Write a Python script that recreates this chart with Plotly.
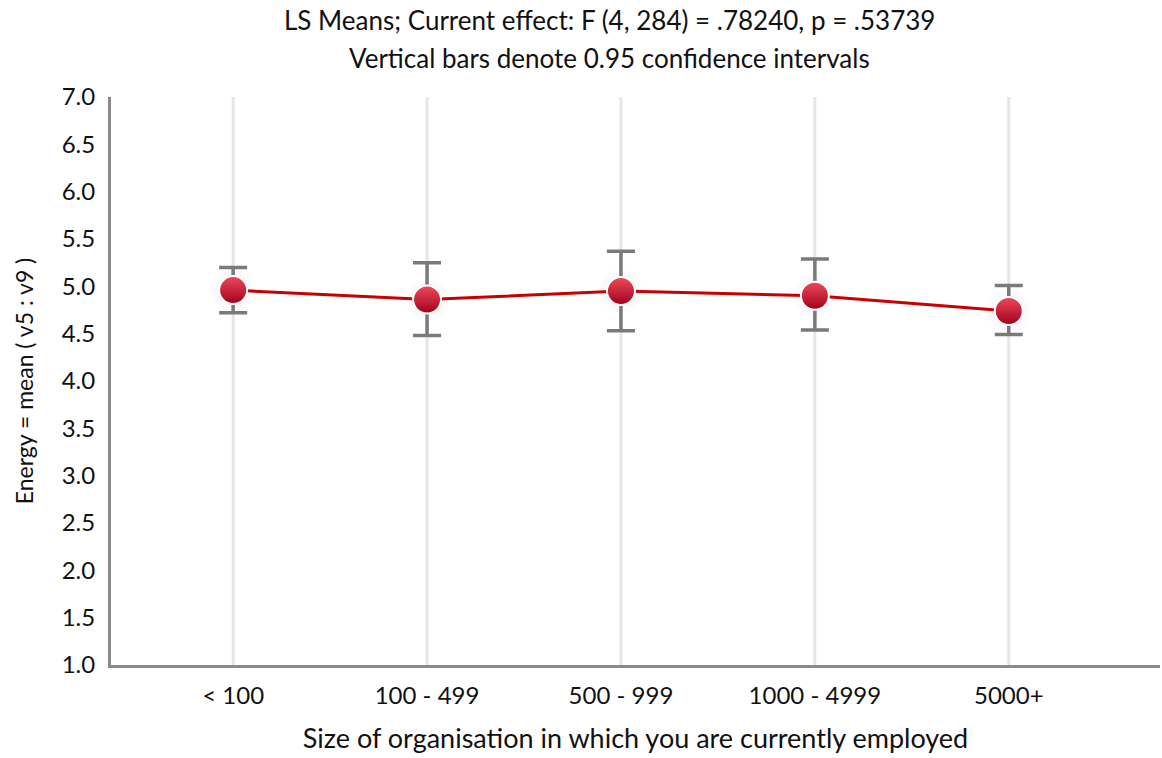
import plotly.graph_objects as go

categories = ["< 100", "100 - 499", "500 - 999", "1000 - 4999", "5000+"]
means = [4.96, 4.86, 4.95, 4.90, 4.74]
ci_upper = [5.20, 5.25, 5.37, 5.29, 5.01]
ci_lower = [4.72, 4.48, 4.53, 4.54, 4.49]
y_ticks = [1.0, 1.5, 2.0, 2.5, 3.0, 3.5, 4.0, 4.5, 5.0, 5.5, 6.0, 6.5, 7.0]
title_lines = ["LS Means; Current effect: F (4, 284) = .78240, p = .53739",
               "Vertical bars denote 0.95 confidence intervals"]

err_plus = [u - m for u, m in zip(ci_upper, means)]
err_minus = [m - l for m, l in zip(means, ci_lower)]

FONT = "Lato, 'Open Sans', sans-serif"

fig = go.Figure()

# vertical category guide lines
for c in categories:
    fig.add_shape(type="line", xref="x", yref="y", x0=c, x1=c, y0=1.0, y1=7.0,
                  line=dict(color="#e6e6e6", width=3), layer="below")

# soft shadow halos
fig.add_trace(go.Scatter(
    x=categories, y=means, mode="markers", hoverinfo="skip", showlegend=False,
    marker=dict(size=46, color="rgba(0,0,0,0.0)",
                gradient=dict(type="radial", color="rgba(0,0,0,0.09)"),
                line=dict(width=0))))

fig.add_trace(go.Scatter(
    x=categories, y=means, mode="lines+markers", showlegend=False,
    line=dict(color="#c80000", width=3),
    error_y=dict(type="data", symmetric=False, array=err_plus, arrayminus=err_minus,
                 color="#7a7a7a", thickness=3.5, width=14),
    marker=dict(size=28, color="#ee4a5c",
                gradient=dict(type="vertical", color="#a0001a"),
                line=dict(color="white", width=2))))

for i, line in enumerate(title_lines):
    fig.add_annotation(text=line, xref="paper", yref="paper", x=0.475, y=1.0,
                       xanchor="center", yanchor="middle", yshift=77 - 38 * i,
                       showarrow=False, font=dict(family=FONT, size=26, color="#111"))

fig.update_layout(
    width=1162, height=758,
    margin=dict(l=111, r=2, t=97, b=93),
    paper_bgcolor="white", plot_bgcolor="white",
    font=dict(family=FONT, size=24, color="#111"),
)

fig.update_xaxes(
    type="category", range=[-0.63, 4.78],
    showgrid=False, zeroline=False,
    showline=True, linecolor="#8a8a8a", linewidth=3,
    ticks="", tickfont=dict(size=24), ticklabelstandoff=7,
    title=dict(text="Size of organisation in which you are currently employed",
               font=dict(size=27), standoff=22),
)
fig.update_yaxes(
    range=[1.0, 7.0], tickvals=y_ticks, ticktext=[f"{v:.1f}" for v in y_ticks],
    showgrid=False, zeroline=False,
    showline=True, linecolor="#8a8a8a", linewidth=3,
    ticks="", tickfont=dict(size=24), ticklabelstandoff=8,
    title=dict(text="Energy = mean ( v5 : v9 )", font=dict(size=23), standoff=22),
)

fig.write_html("out.html")
